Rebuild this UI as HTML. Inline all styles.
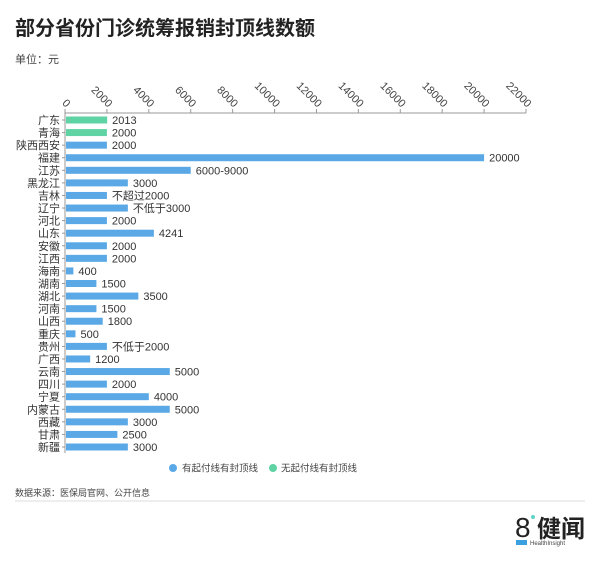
<!DOCTYPE html>
<html><head><meta charset="utf-8"><style>
body{margin:0;background:#fff;}
svg{display:block;font-family:"Liberation Sans","Noto Sans CJK SC",sans-serif;}
</style></head><body>
<svg width="600" height="562" viewBox="0 0 600 562">
<text x="15" y="35" font-size="20" font-weight="bold" fill="#222">部分省份门诊统筹报销封顶线数额</text>
<text x="15" y="63" font-size="11" fill="#444">单位：元</text>
<g id="axis"></g>
<g id="bars"></g>
<g>
<circle cx="173" cy="468" r="4" fill="#5aa9e6"/><text x="182" y="471.5" font-size="9.5" fill="#444">有起付线有封顶线</text>
<circle cx="273" cy="468" r="4" fill="#5fd3a4"/><text x="281" y="471.5" font-size="9.5" fill="#444">无起付线有封顶线</text>
</g>
<text x="15" y="496" font-size="9" fill="#444">数据来源：医保局官网、公开信息</text>
<line x1="15" y1="501" x2="585" y2="501" stroke="#ddd"/>
<g>
<text x="515" y="537" font-size="28" fill="#222">8</text>
<circle cx="533" cy="517" r="2" fill="#5fd3c4"/>
<text x="537" y="537" font-size="24" font-weight="bold" fill="#222">健闻</text>
<rect x="516" y="540" width="11" height="5" fill="#3aa0e0"/>
<text x="530" y="545" font-size="6" fill="#444">HealthInsight</text>
</g>
</svg>
<script>
const categories=["广东","青海","陕西西安","福建","江苏","黑龙江","吉林","辽宁","河北","山东","安徽","江西","海南","湖南","湖北","河南","山西","重庆","贵州","广西","云南","四川","宁夏","内蒙古","西藏","甘肃","新疆"];
const values=[2013,2000,2000,20000,6000,3000,2000,3000,2000,4241,2000,2000,400,1500,3500,1500,1800,500,2000,1200,5000,2000,4000,5000,3000,2500,3000];
const valueLabels=["2013","2000","2000","20000","6000-9000","3000","不超过2000","不低于3000","2000","4241","2000","2000","400","1500","3500","1500","1800","500","不低于2000","1200","5000","2000","4000","5000","3000","2500","3000"];
const groups=["none","none","with","with","with","with","with","with","with","with","with","with","with","with","with","with","with","with","with","with","with","with","with","with","with","with","with"];
const ticks=[0,2000,4000,6000,8000,10000,12000,14000,16000,18000,20000,22000];
const NS="http://www.w3.org/2000/svg";
const x0=65,x1=526,xmax=22000,yTop=120,yBot=447,axisY=113;
const xs=v=>x0+(x1-x0)*v/xmax;
const ys=i=>yTop+(yBot-yTop)*i/(categories.length-1);
function mk(t,a,p){const e=document.createElementNS(NS,t);for(const k in a)e.setAttribute(k,a[k]);p.appendChild(e);return e;}
const ax=document.getElementById('axis'),bg=document.getElementById('bars');
const al=mk('line',{x1:x0,y1:axisY,x2:xs(xmax),y2:axisY,stroke:'#999'},ax);


const yl=mk('line',{x1:x0,y1:axisY,x2:x0,y2:yBot+6,stroke:'#999'},ax);


ticks.forEach(t=>{
 const x=xs(t);
 mk('line',{x1:x,y1:axisY-4,x2:x,y2:axisY,stroke:'#999'},ax);
 const tx=mk('text',{x:x+1,y:axisY-5,'font-size':11,fill:'#444','text-anchor':'end',transform:`rotate(45 ${x+1} ${axisY-5})`},ax);
 tx.textContent=t;
 
 
});
categories.forEach((c,i)=>{
 const y=ys(i);
 mk('line',{x1:x0-3,y1:y,x2:x0,y2:y,stroke:'#999'},bg);
 const l=mk('text',{x:x0-5,y:y+4,'font-size':11,fill:'#333','text-anchor':'end'},bg);
 l.textContent=c;
 
 
 const r=mk('rect',{x:x0+1,y:y-3.5,width:Math.max(0,xs(values[i])-x0-1),height:7,fill:groups[i]==='none'?'#5fd3a4':'#5aa9e6'},bg);
 
 
 const v=mk('text',{x:xs(values[i])+5,y:y+4,'font-size':11,fill:'#333'},bg);
 v.textContent=valueLabels[i];
 
 
});
</script>
</body></html>
